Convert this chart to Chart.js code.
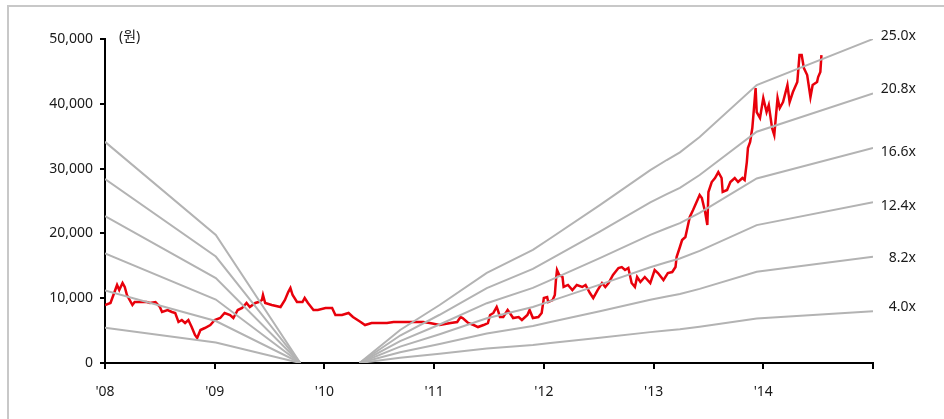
<!DOCTYPE html>
<html>
<head>
<meta charset="utf-8">
<script src="https://cdn.jsdelivr.net/npm/chart.js@4/dist/chart.umd.min.js"></script>
<style>
  html, body { margin: 0; padding: 0; background: #fff; }
  #wrap { width: 944px; height: 419px; position: relative; }
</style>
</head>
<body>
<div id="wrap"><canvas id="mychart" width="944" height="419"></canvas></div>
<script>
// price (원), x in decimal years
var priceYears = [2008.00,2008.05,2008.07,2008.11,2008.13,2008.16,2008.18,2008.20,2008.25,2008.27,2008.32,2008.38,2008.41,2008.46,2008.50,2008.52,2008.57,2008.61,2008.64,2008.67,2008.70,2008.73,2008.76,2008.79,2008.82,2008.84,2008.87,2008.91,2008.96,
  2009.00,2009.05,2009.09,2009.14,2009.17,2009.21,2009.25,2009.29,2009.32,2009.37,2009.40,2009.43,2009.44,2009.46,2009.52,2009.60,2009.64,2009.67,2009.69,2009.71,2009.75,2009.80,2009.82,2009.85,2009.90,2009.94,
  2010.01,2010.07,2010.10,2010.16,2010.22,2010.26,2010.33,2010.37,2010.43,2010.51,2010.57,2010.63,2010.71,2010.76,2010.83,2010.90,2010.96,
  2011.05,2011.15,2011.21,2011.24,2011.26,2011.31,2011.36,2011.40,2011.45,2011.49,2011.51,2011.54,2011.57,2011.58,2011.60,2011.63,2011.67,2011.69,2011.72,2011.77,2011.80,2011.85,2011.87,2011.90,2011.95,2011.98,
  2012.00,2012.03,2012.04,2012.08,2012.10,2012.11,2012.12,2012.14,2012.17,2012.18,2012.22,2012.26,2012.30,2012.35,2012.38,2012.42,2012.45,2012.49,2012.53,2012.56,2012.59,2012.63,2012.68,2012.71,2012.74,2012.77,2012.80,2012.83,2012.85,2012.88,2012.92,2012.97,
  2013.01,2013.04,2013.09,2013.13,2013.17,2013.20,2013.21,2013.24,2013.26,2013.29,2013.31,2013.33,2013.36,2013.40,2013.42,2013.44,2013.47,2013.49,2013.50,2013.53,2013.56,2013.59,2013.62,2013.63,2013.67,2013.70,2013.74,2013.77,2013.81,2013.83,2013.85,2013.86,2013.88,2013.90,2013.91,2013.93,2013.94,2013.97,
  2014.00,2014.03,2014.05,2014.08,2014.10,2014.13,2014.15,2014.18,2014.22,2014.24,2014.27,2014.31,2014.33,2014.35,2014.37,2014.40,2014.43,2014.45,2014.49,2014.50,2014.52,2014.53];
var prices = [8950,9260,10180,12040,11260,12340,11730,10490,8950,9410,9410,9410,9260,9410,8640,7870,8180,7870,7720,6330,6630,6170,6630,5550,4320,3860,5090,5400,5860,
  6630,6940,7720,7410,6940,8180,8490,9260,8640,9260,9410,9720,10490,9260,8950,8640,9720,10950,11570,10490,9410,9410,10030,9260,8180,8180,
  8490,8490,7410,7410,7720,7100,6330,5860,6170,6170,6170,6330,6330,6330,6330,6330,6170,
  5860,6170,6330,7100,6940,6170,5860,5550,5860,6170,7410,7720,8640,8180,7100,7100,8180,7720,6940,7100,6630,7410,8180,6940,7100,7720,
  10030,10180,9410,9720,10490,12800,14350,13580,13270,11730,12040,11260,12040,11730,12040,10800,10030,11260,12340,11730,12340,13580,14660,14810,14350,14660,12340,11730,13270,12500,13270,12340,
  14350,13890,12800,13890,14040,14810,16360,17900,18980,19440,20980,22530,23610,25150,25920,25460,23300,21290,26390,27930,28550,29470,28550,26390,26700,27930,28550,27930,28550,28240,31010,33170,34100,36260,38270,42430,38730,37800,
  40890,38730,39810,36260,35180,40890,39350,40270,42890,40270,41810,43360,47520,47520,45520,44440,41040,42890,43360,44130,44900,47520];

// EPS path behind the PER band (null = negative, not drawn)
var epsYears = [2008.00,2009.01,2009.78,2010.00,2010.32,2010.69,2011.05,2011.48,2011.90,2012.06,2012.51,2012.97,2013.12,2013.24,2013.42,2013.94,2015.00];
var eps = [1365,790,0,null,0,204,358,556,698,770,975,1191,1253,1300,1395,1716,2000];

var multiples = [4.0, 8.2, 12.4, 16.6, 20.8, 25.0];
var bandLabels = ['4.0x', '8.2x', '12.4x', '16.6x', '20.8x', '25.0x'];
var labelShift = [-4, 1, 4, 4, -4, -3];
var yearTicks = ["'08", "'09", "'10", "'11", "'12", "'13", "'14"];

var FONT = '"Noto Sans", "Noto Sans CJK KR", sans-serif';

var datasets = [];
multiples.forEach(function(m, i){
  datasets.push({
    label: bandLabels[i],
    data: epsYears.map(function(x, j){ return {x: x, y: eps[j] === null ? null : eps[j] * m}; }),
    borderColor: '#b3b3b3',
    borderWidth: 2,
    pointRadius: 0,
    spanGaps: false,
    tension: 0
  });
});
datasets.push({
  label: '주가',
  data: priceYears.map(function(x, j){ return {x: x, y: prices[j]}; }),
  borderColor: '#e8000b',
  borderWidth: 2.5,
  pointRadius: 0,
  tension: 0
});

var extras = {
  id: 'extras',
  beforeDraw: function(chart){
    var c = chart.ctx;
    c.save();
    c.fillStyle = '#fff';
    c.fillRect(0, 0, chart.width, chart.height);
    c.strokeStyle = '#c8c8c8';
    c.lineWidth = 2;
    c.beginPath();
    c.moveTo(8, 419); c.lineTo(8, 6); c.lineTo(944, 6);
    c.stroke();
    c.restore();
  },
  afterDatasetsDraw: function(chart){
    var c = chart.ctx, a = chart.chartArea, ys = chart.scales.y;
    c.save();
    c.font = '14px ' + FONT;
    c.fillStyle = '#1a1a1a';
    c.textBaseline = 'middle';
    c.textAlign = 'left';
    c.fillText('(원)', a.left + 14, a.top - 2);
    c.textAlign = 'right';
    multiples.forEach(function(m, i){
      var v = eps[eps.length - 1] * m;
      c.fillText(bandLabels[i], a.right + 43, ys.getPixelForValue(v) + labelShift[i]);
    });
    c.restore();
  }
};

var ctx = document.getElementById('mychart');
var myChart = new Chart(ctx, {
  type: 'line',
  data: { datasets: datasets },
  options: {
    responsive: false,
    animation: false,
    layout: { padding: { left: 0, right: 71, top: 39, bottom: 0 } },
    plugins: { legend: { display: false }, tooltip: { enabled: false } },
    scales: {
      x: {
        type: 'linear',
        min: 2008, max: 2015,
        afterFit: function(s){ s.height = 56; },
        ticks: {
          stepSize: 1,
          autoSkip: false,
          maxRotation: 0,
          padding: 15,
          color: '#1a1a1a',
          font: { family: FONT, size: 14 },
          callback: function(v){ var i = Math.round(v) - 2008; return yearTicks[i] || ''; }
        },
        grid: { display: true, drawOnChartArea: false, drawTicks: true, tickLength: 6, color: '#000', lineWidth: 2 },
        border: { display: true, color: '#000', width: 2 }
      },
      y: {
        min: 0, max: 50000,
        afterFit: function(s){ s.width = 105; },
        ticks: {
          stepSize: 10000,
          padding: 7,
          color: '#1a1a1a',
          font: { family: FONT, size: 14 },
          callback: function(v){ return v.toLocaleString('en-US'); }
        },
        grid: { display: true, drawOnChartArea: false, drawTicks: true, tickLength: 5, color: '#000', lineWidth: 2 },
        border: { display: true, color: '#000', width: 2 }
      }
    }
  },
  plugins: [extras]
});
</script>
</body>
</html>
